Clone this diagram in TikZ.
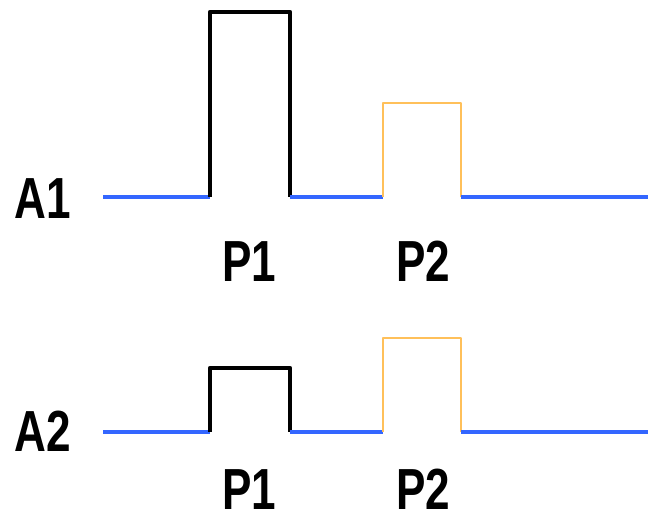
\documentclass[tikz,border=0pt]{standalone}
\usepackage{fontspec}
\newfontfamily\labelfont[FakeStretch=0.76]{Liberation Sans Bold}
\definecolor{baseblue}{RGB}{51,102,255}
\definecolor{pulseorange}{RGB}{255,192,90}
\tikzset{
	base/.style = {baseblue, line width = 2.3pt},
	pulseone/.style = {black, line width = 2.4pt, line join = round},
	pulsetwo/.style = {pulseorange, line width = 1.6pt, line join = round},
	lbl/.style = {inner sep = 0pt, anchor = base, font = \labelfont\fontsize{33}{40}\selectfont}
}
\begin{document}
\begin{tikzpicture}[x = 0.02cm, y = 0.02cm]
	\useasboundingbox (0, 0) rectangle (654, 521);
	
	%	pulse edges
	\def\xstart{103}
	\def\xend{648}
	\def\aup{210}
	\def\adown{290}
	\def\bup{383}
	\def\bdown{461}
	
	%	row A1
	\def\ybase{324}
	\node[lbl] (A1) at (43, 302) {A1};
	\coordinate (A1s) at (\xstart, \ybase);
	\coordinate (A1e) at (\xend, \ybase);
	\draw[base] (A1s) -- (\aup, \ybase);
	\draw[pulseone] (\aup, \ybase) |- (\adown, 509) -- (\adown, \ybase);
	\draw[base] (\adown, \ybase) -- (\bup, \ybase);
	\draw[pulsetwo] (\bup, \ybase) |- (\bdown, 418) -- (\bdown, \ybase);
	\draw[base] (\bdown, \ybase) -- (A1e);
	\node[lbl] (A1p1) at (249, 239) {P1};
	\node[lbl] (A1p2) at (423, 239) {P2};
	
	%	row A2
	\def\ybase{89}
	\node[lbl] (A2) at (43, 69) {A2};
	\coordinate (A2s) at (\xstart, \ybase);
	\coordinate (A2e) at (\xend, \ybase);
	\draw[base] (A2s) -- (\aup, \ybase);
	\draw[pulseone] (\aup, \ybase) |- (\adown, 153) -- (\adown, \ybase);
	\draw[base] (\adown, \ybase) -- (\bup, \ybase);
	\draw[pulsetwo] (\bup, \ybase) |- (\bdown, 183) -- (\bdown, \ybase);
	\draw[base] (\bdown, \ybase) -- (A2e);
	\node[lbl] (A2p1) at (249, 11) {P1};
	\node[lbl] (A2p2) at (423, 11) {P2};
\end{tikzpicture}
\end{document}
